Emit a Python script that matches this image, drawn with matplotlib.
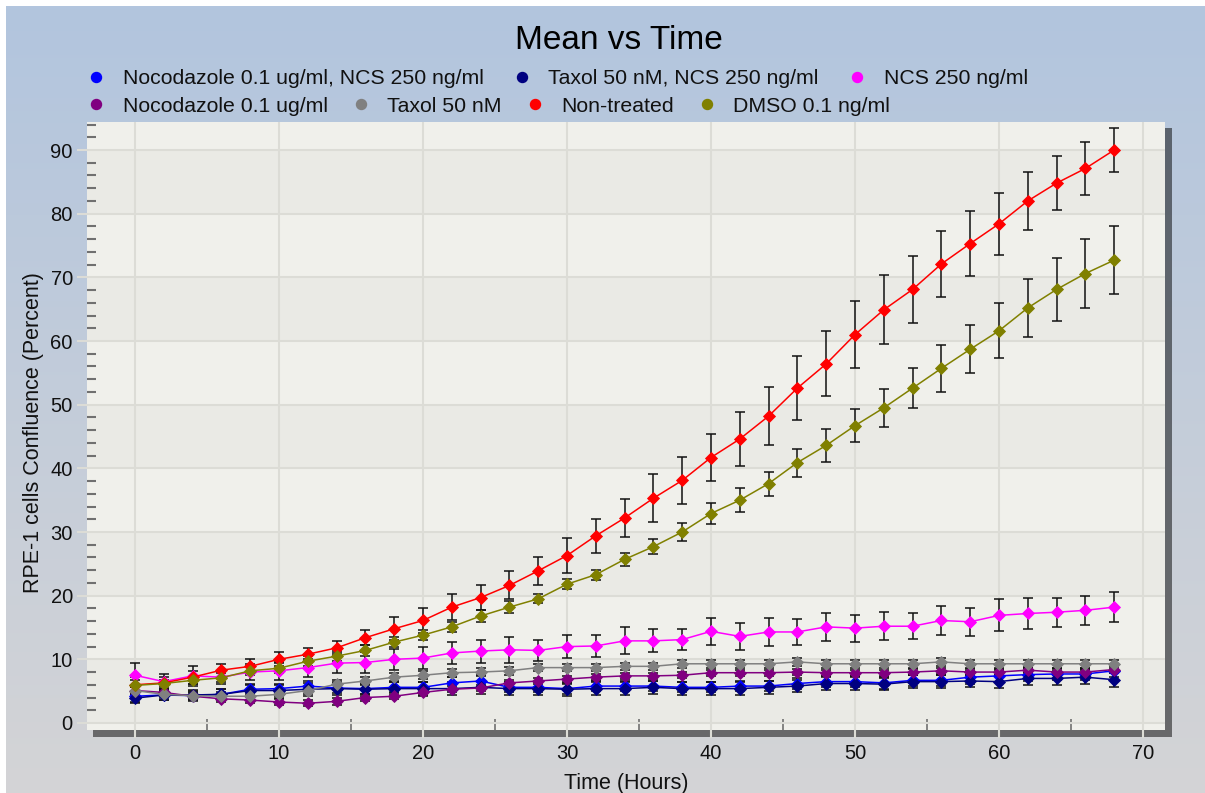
import numpy as np
import matplotlib
matplotlib.use("Agg")
import matplotlib.pyplot as plt
from matplotlib.lines import Line2D
from matplotlib.patches import Rectangle
from matplotlib.colors import LinearSegmentedColormap
from matplotlib.ticker import FixedLocator, MultipleLocator

plt.rcParams["font.family"] = ["Liberation Sans", "DejaVu Sans"]

# ---- data -------------------------------------------------------------
hours = [0, 2, 4, 6, 8, 10, 12, 14, 16, 18, 20, 22, 24, 26, 28, 30, 32, 34,
         36, 38, 40, 42, 44, 46, 48, 50, 52, 54, 56, 58, 60, 62, 64, 66, 68]

noc_ncs = [4.2, 4.4, 4.3, 4.5, 5.3, 5.4, 5.8, 5.5, 5.4, 5.6, 5.6, 6.3, 6.6, 5.6,
           5.6, 5.4, 5.8, 5.8, 5.8, 5.6, 5.6, 5.8, 5.8, 6.2, 6.5, 6.5, 6.3, 6.7,
           6.7, 7.2, 7.4, 7.6, 7.7, 7.7, 8.2]
noc_ncs_err = [0.9, 0.8, 0.8, 0.8, 0.8, 0.8, 0.8, 0.8, 0.8, 0.8, 0.8, 0.9, 0.9,
               0.8, 0.8, 0.8, 0.8, 0.8, 0.8, 0.8, 0.8, 0.8, 0.8, 0.8, 0.9, 0.9,
               0.9, 0.9, 0.9, 1.0, 1.0, 1.0, 1.0, 1.0, 1.0]

tax_ncs = [3.9, 4.4, 4.4, 4.5, 5.1, 5.1, 5.3, 5.4, 5.3, 5.4, 5.4, 5.4, 5.6, 5.4,
           5.4, 5.3, 5.4, 5.4, 5.6, 5.4, 5.4, 5.4, 5.6, 5.8, 6.2, 6.2, 6.1, 6.5,
           6.5, 6.6, 6.5, 7.0, 7.0, 7.2, 6.8]
tax_ncs_err = [0.8, 0.8, 0.8, 0.9, 0.9, 0.9, 1.0, 1.0, 1.0, 1.0, 1.0, 1.0, 1.0,
               1.0, 1.0, 1.0, 1.0, 1.0, 1.0, 1.0, 1.0, 1.0, 1.0, 1.0, 1.0, 1.0,
               0.9, 1.0, 1.0, 1.0, 1.0, 1.0, 1.1, 1.1, 1.1]

ncs = [7.5, 6.5, 7.4, 7.2, 8.0, 8.2, 8.7, 9.4, 9.5, 10.0, 10.2, 11.0, 11.3,
       11.5, 11.4, 12.0, 12.1, 12.9, 12.9, 13.1, 14.4, 13.6, 14.3, 14.3, 15.1,
       14.9, 15.2, 15.2, 16.1, 15.9, 16.9, 17.2, 17.4, 17.7, 18.2]
ncs_err = [1.9, 1.2, 1.6, 1.0, 1.3, 1.4, 1.4, 1.6, 1.7, 1.7, 1.7, 1.8, 1.8,
           2.0, 1.7, 1.8, 1.8, 2.1, 1.8, 1.7, 2.1, 2.1, 2.2, 2.0, 2.2, 2.1,
           2.2, 2.0, 2.2, 2.2, 2.5, 2.4, 2.3, 2.3, 2.4]

noc = [5.1, 4.8, 4.2, 3.8, 3.6, 3.3, 3.1, 3.4, 4.0, 4.2, 4.8, 5.3, 5.5, 6.3,
       6.6, 6.9, 7.2, 7.4, 7.4, 7.5, 7.9, 7.9, 7.9, 8.0, 7.9, 7.9, 7.9, 8.0,
       8.2, 8.0, 8.0, 8.3, 8.0, 8.0, 8.4]
noc_err = [0.6, 0.5, 0.5, 0.5, 0.5, 0.5, 0.5, 0.5, 0.5, 0.5, 0.5, 0.5, 0.5,
           0.5, 0.5, 0.5, 0.5, 0.5, 0.5, 0.5, 0.5, 0.5, 0.5, 0.5, 0.5, 0.5,
           0.5, 0.5, 0.5, 0.5, 0.5, 0.5, 0.5, 0.5, 0.6]

taxol = [5.1, 4.5, 4.3, 4.2, 4.2, 4.5, 5.1, 6.1, 6.6, 7.2, 7.5, 7.9, 8.0, 8.2,
         8.7, 8.7, 8.7, 8.9, 8.9, 9.3, 9.3, 9.3, 9.3, 9.6, 9.3, 9.3, 9.3, 9.3,
         9.6, 9.3, 9.3, 9.3, 9.3, 9.3, 9.3]
taxol_err = [0.7, 0.6, 0.6, 0.6, 0.6, 0.6, 0.6, 0.6, 0.6, 0.6, 0.6, 0.6, 0.6,
             0.6, 0.6, 0.6, 0.6, 0.6, 0.6, 0.6, 0.6, 0.6, 0.6, 0.6, 0.6, 0.6,
             0.6, 0.6, 0.6, 0.6, 0.6, 0.6, 0.6, 0.6, 0.6]

untreated = [6.0, 6.3, 7.2, 8.3, 8.9, 10.0, 10.8, 11.8, 13.4, 14.8, 16.1, 18.2,
             19.7, 21.6, 23.9, 26.3, 29.4, 32.2, 35.3, 38.1, 41.7, 44.6, 48.2,
             52.6, 56.4, 61.0, 64.9, 68.1, 72.1, 75.3, 78.4, 82.0, 84.8, 87.1,
             90.0]
untreated_err = [1.2, 1.0, 1.0, 1.0, 1.1, 1.1, 1.0, 1.1, 1.2, 1.8, 2.0, 2.0,
                 2.0, 2.2, 2.2, 2.7, 2.7, 3.0, 3.8, 3.7, 3.7, 4.2, 4.5, 5.0,
                 5.1, 5.3, 5.4, 5.3, 5.2, 5.1, 4.9, 4.5, 4.3, 4.1, 3.5]

dmso = [5.9, 6.2, 6.7, 7.1, 8.2, 8.6, 9.7, 10.5, 11.4, 12.7, 13.8, 15.1, 16.8,
        18.2, 19.5, 21.8, 23.3, 25.7, 27.7, 30.0, 32.9, 35.0, 37.6, 40.9, 43.6,
        46.7, 49.5, 52.6, 55.7, 58.7, 61.6, 65.2, 68.1, 70.6, 72.7]
dmso_err = [0.8, 0.6, 0.6, 0.7, 0.7, 0.8, 0.8, 0.8, 0.8, 0.8, 0.8, 0.8, 0.9,
            0.9, 0.7, 0.8, 0.8, 1.0, 1.2, 1.4, 1.7, 1.9, 1.9, 2.2, 2.6, 2.6,
            3.0, 3.2, 3.7, 3.8, 4.3, 4.5, 5.0, 5.4, 5.3]

labels = ["Nocodazole 0.1 ug/ml, NCS 250 ng/ml", "Taxol 50 nM, NCS 250 ng/ml",
          "NCS 250 ng/ml", "Nocodazole 0.1 ug/ml", "Taxol 50 nM",
          "Non-treated", "DMSO 0.1 ng/ml"]
colors = ["#0000FF", "#000080", "#FF00FF", "#800080", "#808080",
          "#FF0000", "#808000"]
means = [noc_ncs, tax_ncs, ncs, noc, taxol, untreated, dmso]
errors = [noc_ncs_err, tax_ncs_err, ncs_err, noc_err, taxol_err,
          untreated_err, dmso_err]

# ---- figure & backdrop -----------------------------------------------
W, H = 1205, 793
fig = plt.figure(figsize=(W / 100, H / 100), dpi=100)
fig.patch.set_facecolor("white")

bg = fig.add_axes([6 / W, 0, 1 - 6 / W, 1 - 6 / H], zorder=-10)
grad = np.linspace(0, 1, 256)[:, None]
bg_cmap = LinearSegmentedColormap.from_list("backdrop", ["#B2C5DE", "#D4D4D6"])
bg.imshow(grad, aspect="auto", cmap=bg_cmap, extent=[0, 1, 0, 1],
          origin="upper")
bg.set_axis_off()

# drop shadow behind the plot area
fig.patches.append(Rectangle((93 / W, 1 - 737 / H), (1172 - 93) / W,
                             (737 - 128) / H, transform=fig.transFigure,
                             facecolor="black", alpha=0.5, lw=0, zorder=-5))

ax = fig.add_axes([87 / W, 1 - 730 / H, (1165 - 87) / W, (730 - 122) / H])
ax.set_xlim(-3.33, 71.53)
ax.set_ylim(-1.1, 94.4)
ax.set_facecolor("#F0F0EB")
for lo in range(0, 90, 20):
    ax.axhspan(lo, lo + 10, color="#EAEAE5", lw=0, zorder=0.2)

for s in ax.spines.values():
    s.set_visible(False)

grid_c = "#DCDCD6"
ax.set_axisbelow(True)
ax.grid(True, which="major", color=grid_c, lw=1.5)
ax.xaxis.set_major_locator(MultipleLocator(10))
ax.yaxis.set_major_locator(MultipleLocator(10))
ax.xaxis.set_minor_locator(FixedLocator([5, 15, 25, 35, 45, 55, 65]))
ax.yaxis.set_minor_locator(FixedLocator([v for v in range(2, 95, 2) if v % 10]))

ax.tick_params(axis="y", which="major", direction="out", length=7.2,
               width=1.5, color=grid_c, pad=3, labelsize=14.5,
               labelcolor="#111111")
ax.tick_params(axis="x", which="major", direction="out", length=5.8,
               width=1.5, color=grid_c, pad=4.5, labelsize=14.5,
               labelcolor="#111111")
ax.tick_params(axis="y", which="minor", direction="in", length=6.5,
               width=1.5, color="#707070", left=True)
ax.tick_params(axis="x", which="minor", direction="in", length=8,
               width=1.2, color="#707070", bottom=True)

# ---- series -----------------------------------------------------------
for m, e in zip(means, errors):
    ax.errorbar(hours, m, yerr=e, fmt="none", ecolor="#111111",
                elinewidth=1.1, capsize=3.6, capthick=1.1, zorder=3)
for m, c in zip(means, colors):
    ax.plot(hours, m, color=c, lw=1.1, marker="D", ms=6.3, mec=c, mew=0.6,
            zorder=4)

# ---- labels -----------------------------------------------------------
ax.set_xlabel("Time (Hours)", fontsize=15.5, color="#111111")
ax.xaxis.set_label_coords(0.5, -(789 - 730) / 608)
ax.xaxis.label.set_va("baseline")
ax.set_ylabel("RPE-1 cells Confluence (Percent)", fontsize=15.5,
              color="#111111")
ax.yaxis.set_label_coords(-(87 - 34) / 1078, (730 - 433) / 608)
ax.yaxis.label.set_va("center")
ax.yaxis.label.set_ha("center")

fig.text(619 / W, 1 - 49 / H, "Mean vs Time", ha="center", va="baseline",
         fontsize=24, color="black")

handles = [Line2D([], [], ls="none", marker="o", ms=7.2, color=c, mec=c)
           for c in colors]
leg_kw = dict(frameon=False, fontsize=15.3, handlelength=0.7,
              handletextpad=0.9, columnspacing=1.2, borderpad=0,
              borderaxespad=0, loc="center left")
leg1 = fig.legend(handles[:3], labels[:3], ncol=3, columnspacing=1.45,
                  **{k: v for k, v in leg_kw.items() if k != "columnspacing"},
                  bbox_to_anchor=(88.7 / W, 1 - 79 / H))
leg2 = fig.legend(handles[3:], labels[3:], ncol=4,
                  bbox_to_anchor=(88.7 / W, 1 - 106 / H), **leg_kw)
for lg in (leg1, leg2):
    for t in lg.get_texts():
        t.set_color("#111111")

fig.savefig("out.png", dpi=100)
